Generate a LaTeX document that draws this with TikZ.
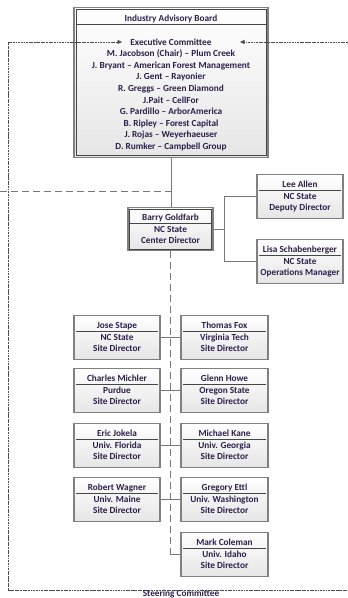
\documentclass[tikz,border=0pt]{standalone}
\usepackage{fontspec}
\setmainfont{Carlito}
\usetikzlibrary{calc,arrows.meta,shadows}
\definecolor{txtc}{RGB}{45,30,75}
\definecolor{bord}{RGB}{128,128,128}
\definecolor{lnc}{RGB}{120,120,120}
\definecolor{hdrc}{RGB}{70,70,70}
\tikzset{
  box/.style={draw=bord, line width=1.1bp, top color=white, bottom color=black!10,
    inner sep=0pt, drop shadow={shadow xshift=0.8bp, shadow yshift=-0.8bp, opacity=0.25, fill=black}},
  txt/.style={text=txtc, font=\bfseries\fontsize{9.3}{11}\selectfont, inner sep=0pt, anchor=base},
  hdr/.style={draw=hdrc, line width=0.7bp},
  inner/.style={draw=hdrc, line width=0.6bp},
  conn/.style={draw=lnc, line width=0.9bp},
  ldash/.style={draw=lnc, line width=0.9bp, dash pattern=on 7bp off 4bp},
  sdash/.style={draw=black!70, line width=0.6bp, dash pattern=on 2.5bp off 0.8bp on 2.5bp off 0.8bp on 0.8bp off 0.8bp},
  tip/.style={-{Triangle[length=4.5bp,width=4bp]}},
}
% name, centre x, top y, width, height, line1, line2, line3
\newcommand\orgbox[8]{%
  \node[box, minimum width=#4bp, minimum height=#5bp, anchor=north] (#1) at (#2,#3) {};
  \draw[hdr] ($(#1.north west)+(3,16.5)$) -- ($(#1.north east)+(-3,16.5)$);
  \node[txt] (#1-a) at ($(#1.north)+(0,13.3)$) {#6};
  \node[txt] (#1-b) at ($(#1.north)+(0,25.3)$) {#7};
  \node[txt] (#1-c) at ($(#1.north)+(0,36.8)$) {#8};
}
\begin{document}
\begin{tikzpicture}[x=1bp,y=-1bp]
\useasboundingbox (0,0) rectangle (347,598);

% Industry Advisory Board
\node[box, minimum width=194bp, minimum height=150bp, anchor=north] (iab) at (171,7) {};
\draw[inner] ($(iab.north west)+(2.5,2.5)$) rectangle ($(iab.south east)+(-2.5,-2.5)$);
\draw[hdr] ($(iab.north west)+(2.5,17)$) -- ($(iab.north east)+(-2.5,17)$);
\node[txt] (iab-t) at (171,21.3) {Industry Advisory Board};
\foreach \t [count=\i from 0] in {Executive Committee,
  M. Jacobson (Chair) – Plum Creek,
  J. Bryant – American Forest Management,
  J. Gent – Rayonier,
  R. Greggs – Green Diamond,
  J.Pait – CellFor,
  G. Pardillo – ArborAmerica,
  B. Ripley – Forest Capital,
  J. Rojas – Weyerhaeuser,
  D. Rumker – Campbell Group}
  \node[txt] (iab-\i) at (171,{45.3+11.55*\i}) {\t};

% Steering committee
\coordinate (scTL) at (8,42);
\coordinate (scBL) at (8,590);
\coordinate (scBR) at (360,590);
\coordinate (scTR) at (360,42);
\coordinate (exL) at (122,42);
\coordinate (exR) at (240,42);
\draw[sdash, tip] (scTL |- scBR) -- (scTL) -- (exL);
\draw[sdash] (scBL) -- (scBR);
\draw[sdash, tip] (scTR) -- (exR);
\node[txt] (sct) at (181,596.3) {Steering Committee};

% Center director
\orgbox{bg}{170.5}{207}{85}{43}{Barry Goldfarb}{NC State}{Center Director}
\draw[inner] ($(bg.north west)+(2,2)$) rectangle ($(bg.south east)+(-2,-2)$);
\orgbox{la}{300}{174}{86}{44}{Lee Allen}{NC State}{Deputy Director}
\orgbox{ls}{300}{239}{86}{44}{Lisa Schabenberger}{NC State}{Operations Manager}

\draw[conn] (iab.south) -- (iab.south |- bg.north);
\coordinate (sl) at (0,191);
\draw[ldash] (sl) -- (sl -| iab.south);
\coordinate (bj) at ($(bg.east)+(11,0)$);
\draw[conn] (bg.east) -- (bj);
\draw[conn] (la.west) -| (bj) |- (ls.west);

% Site directors
\orgbox{js}{117}{315}{86}{44}{Jose Stape}{NC State}{Site Director}
\orgbox{tf}{224.5}{315}{87}{44}{Thomas Fox}{Virginia Tech}{Site Director}
\orgbox{cm}{117}{368}{86}{44}{Charles Michler}{Purdue}{Site Director}
\orgbox{gh}{224.5}{368}{87}{44}{Glenn Howe}{Oregon State}{Site Director}
\orgbox{ej}{117}{423}{86}{44}{Eric Jokela}{Univ. Florida}{Site Director}
\orgbox{mk}{224.5}{423}{87}{44}{Michael Kane}{Univ. Georgia}{Site Director}
\orgbox{rw}{117}{477}{86}{44}{Robert Wagner}{Univ. Maine}{Site Director}
\orgbox{ge}{224.5}{477}{87}{44}{Gregory Ettl}{Univ. Washington}{Site Director}
\orgbox{mc}{224.5}{532}{87}{44}{Mark Coleman}{Univ. Idaho}{Site Director}

\draw[conn] (js.east) -- (tf.west);
\draw[conn] (cm.east) -- (gh.west);
\draw[conn] (ej.east) -- (mk.west);
\draw[conn] (rw.east) -- (ge.west);
\coordinate (vj) at (bg.south |- mc.west);
\draw[ldash] (bg.south) -- (vj);
\draw[conn] (vj) -- (mc.west);
\end{tikzpicture}
\end{document}
